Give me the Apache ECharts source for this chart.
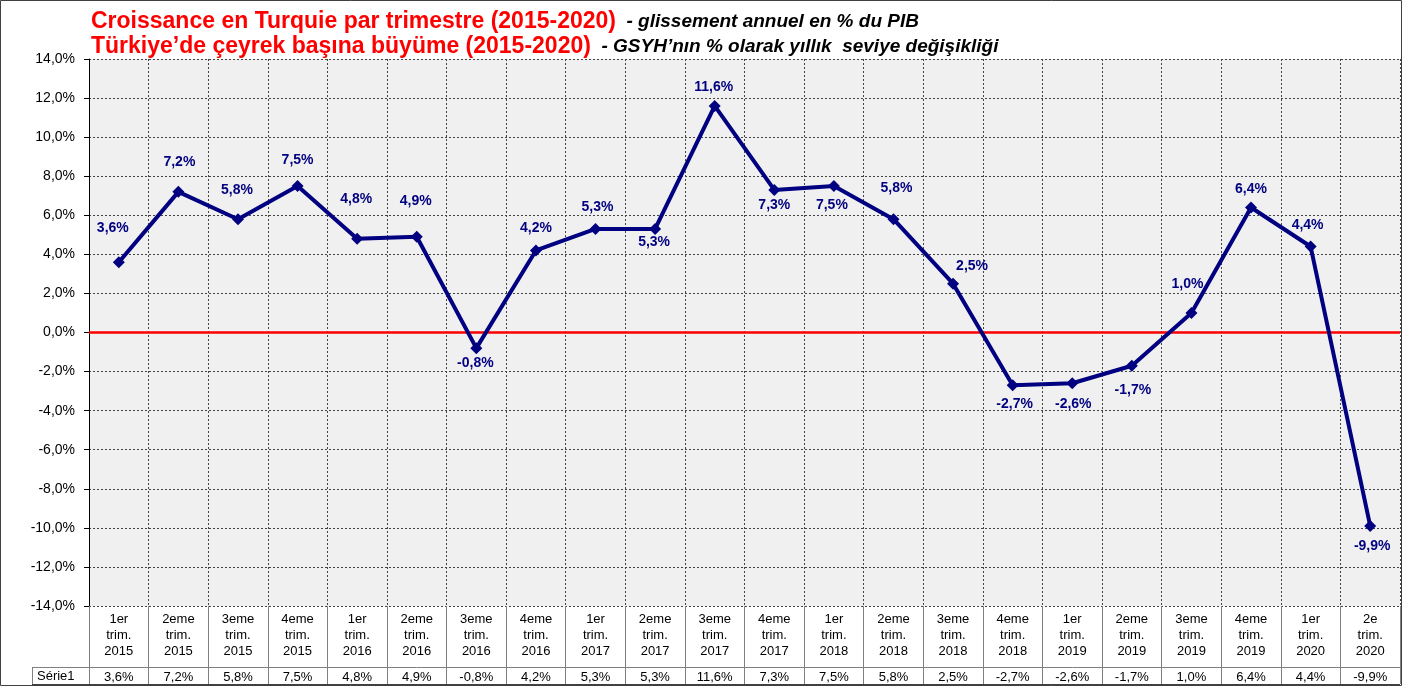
<!DOCTYPE html>
<html>
<head>
<meta charset="utf-8">
<script src="https://cdn.jsdelivr.net/npm/echarts@6/dist/echarts.min.js"></script>
<style>
  html, body { margin: 0; padding: 0; background: #fff; }
  #chart { width: 1402px; height: 686px; }
</style>
</head>
<body>
<div id="chart"></div>
<script>
// quarters (category labels, 3 lines each)
var categories = [
  '1er\ntrim.\n2015', '2eme\ntrim.\n2015', '3eme\ntrim.\n2015', '4eme\ntrim.\n2015',
  '1er\ntrim.\n2016', '2eme\ntrim.\n2016', '3eme\ntrim.\n2016', '4eme\ntrim.\n2016',
  '1er\ntrim.\n2017', '2eme\ntrim.\n2017', '3eme\ntrim.\n2017', '4eme\ntrim.\n2017',
  '1er\ntrim.\n2018', '2eme\ntrim.\n2018', '3eme\ntrim.\n2018', '4eme\ntrim.\n2018',
  '1er\ntrim.\n2019', '2eme\ntrim.\n2019', '3eme\ntrim.\n2019', '4eme\ntrim.\n2019',
  '1er\ntrim.\n2020', '2e\ntrim.\n2020'
]
// Série1 - glissement annuel en %
var serie1 = [3.6, 7.2, 5.8, 7.5, 4.8, 4.9, -0.8, 4.2, 5.3, 5.3, 11.6, 7.3,
  7.5, 5.8, 2.5, -2.7, -2.6, -1.7, 1.0, 6.4, 4.4, -9.9]
var yTicks = { min: -14, max: 14, step: 2 }

// where each value label sits relative to its point (px)
var labelOffsets = [
  [-6, -34], [1, -30], [-1, -29], [0, -26], [-1, -40], [-1, -36], [-1, 15], [0, -22],
  [2, -22], [-1, 13], [-1, -19], [0, 15], [-2, 19], [3, -31], [19, -18], [2, 19],
  [1, 21], [1, 24], [-4, -29], [0, -18], [-3, -21], [2, 20]
]

function pct(v) {
  return v.toFixed(1).replace('.', ',') + '%'
}

var font = "'Liberation Sans', Arial, sans-serif"
var navy = '#000080'
var tableLine = '#808080'
var titleRich = {
  a: { color: '#ff0000', fontFamily: font, fontWeight: 'bold', fontSize: 23 },
  b: { color: '#000', fontFamily: font, fontWeight: 'bold', fontStyle: 'italic', fontSize: 19 }
}

var chart = echarts.init(document.getElementById('chart'))
chart.setOption({
  backgroundColor: '#fff',
  animation: false,
  title: [
    {
      left: 86, top: 5,
      text: '{a|Croissance en Turquie par trimestre (2015-2020)}{b|  - glissement annuel en % du PIB}',
      textStyle: { rich: titleRich }
    },
    {
      left: 86, top: 30,
      text: '{a|Türkiye’de çeyrek başına büyüme (2015-2020)}{b|  - GSYH’nın % olarak yıllık  seviye değişikliği}',
      textStyle: { rich: titleRich }
    }
  ],
  grid: {
    left: 89, right: 2, top: 59, bottom: 80,
    show: true,
    backgroundColor: '#f0f0f0',
    borderWidth: 0
  },
  xAxis: [
    {
      type: 'category',
      data: categories,
      boundaryGap: true,
      axisLine: { show: false, onZero: false },
      axisTick: { show: true, length: 78, lineStyle: { color: tableLine } },
      axisLabel: {
        interval: 0, margin: 5,
        fontFamily: font, fontSize: 13, lineHeight: 16, color: '#000'
      },
      splitLine: { show: true, lineStyle: { color: '#444', type: [2, 2], width: 1 } }
    },
    {
      type: 'category',
      data: serie1.map(pct),
      position: 'bottom',
      offset: 61,
      boundaryGap: true,
      axisLine: { show: true, onZero: false, lineStyle: { color: tableLine } },
      axisTick: { show: false },
      axisLabel: { interval: 0, margin: 4, fontFamily: font, fontSize: 13, color: '#000' },
      splitLine: { show: false }
    }
  ],
  yAxis: {
    type: 'value',
    min: yTicks.min, max: yTicks.max, interval: yTicks.step,
    axisLine: { show: true, lineStyle: { color: '#000' } },
    axisTick: { show: true, length: 5, lineStyle: { color: '#000' } },
    axisLabel: {
      margin: 14, fontFamily: font, fontSize: 14, color: '#000',
      formatter: function (v) { return pct(v) }
    },
    splitLine: { show: true, lineStyle: { color: '#444', type: [2, 2], width: 1 } }
  },
  series: [
    {
      name: 'Série1',
      type: 'line',
      xAxisIndex: 0,
      data: serie1.map(function (v, i) {
        return {
          value: v,
          label: { offset: labelOffsets[i] }
        }
      }),
      symbol: 'diamond',
      symbolSize: 12,
      lineStyle: { color: navy, width: 4 },
      itemStyle: { color: navy },
      z: 5,
      label: {
        show: true,
        position: 'inside',
        fontFamily: font, fontSize: 14, fontWeight: 'bold', color: navy,
        formatter: function (p) { return pct(p.value) }
      },
      markLine: {
        silent: true,
        symbol: 'none',
        label: { show: false },
        lineStyle: { color: '#ff0000', width: 2.5, type: 'solid' },
        data: [{ yAxis: 0 }],
        z: 1
      }
    }
  ],
  graphic: [
    // Série1 cell of the data table
    { type: 'line', shape: { x1: 32, y1: 667.5, x2: 89, y2: 667.5 }, style: { stroke: tableLine, lineWidth: 1 } },
    { type: 'line', shape: { x1: 32.5, y1: 667, x2: 32.5, y2: 684 }, style: { stroke: tableLine, lineWidth: 1 } },
    { type: 'line', shape: { x1: 32, y1: 684.5, x2: 1400, y2: 684.5 }, style: { stroke: '#404040', lineWidth: 1 } },
    {
      type: 'text', left: 37, top: 670,
      style: { text: 'Série1', font: '13px ' + font, fill: '#000' }
    },
    // outer frame
    {
      type: 'rect', shape: { x: 0.5, y: 0.5, width: 1401, height: 685 },
      style: { fill: 'none', stroke: '#404040', lineWidth: 1 }, silent: true
    }
  ]
})
</script>
</body>
</html>
